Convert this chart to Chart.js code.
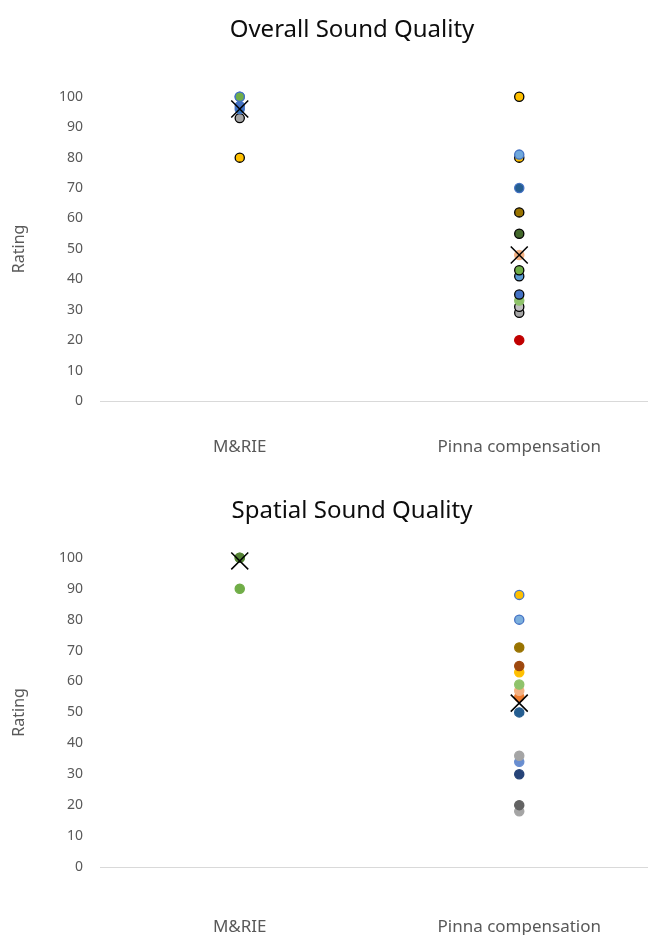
<!DOCTYPE html>
<html lang="en">
<head>
    <meta charset="UTF-8">
    <title>Overall and Spatial Sound Quality</title>
    <script src="https://cdn.jsdelivr.net/npm/chart.js"></script>
    <style>
        body { margin: 0; background: #fff; overflow: hidden; width: 648px; height: 935px; }
        .box { position: absolute; left: 0; width: 704px; }
    </style>
</head>
<body>
    <div class="box" style="top:0;height:468px"><canvas id="overallChart"></canvas></div>
    <div class="box" style="top:468px;height:467px"><canvas id="spatialChart"></canvas></div>
    <script>
        // Categories and ratings
        const categories = ['M&RIE', 'Pinna compensation'];
        const yTicks = [0, 10, 20, 30, 40, 50, 60, 70, 80, 90, 100];

        const overallMrie = [80, 93, 96, 97, 100, 100];
        const overallPinna = [20, 29, 31, 33, 35, 41, 43, 48, 55, 62, 70, 80, 81, 100];
        const overallMean = [96, 48];

        const spatialMrie = [90, 100, 100];
        const spatialPinna = [18, 20, 30, 34, 36, 50, 55, 57, 59, 63, 65, 71, 80, 88];
        const spatialMean = [99, 53];

        // point colours (same order as the values)
        const overallMrieFill = ['#FFC000', '#A5A5A5', '#2E75B6', '#4472C4', '#6FA8DC', '#70AD47'];
        const overallMrieLine = ['#000000', '#000000', '#4472C4', '#4472C4', '#4472C4', '#4472C4'];
        const overallPinnaFill = ['#C00000', '#A5A5A5', '#BFBFBF', '#8FC36B', '#4472C4', '#5B9BD5', '#70AD47', '#F4B183',
            '#43682B', '#997300', '#255E91', '#FFC000', '#6FA8DC', '#FFC000'];
        const overallPinnaLine = ['#C00000', '#000000', '#000000', '#8FC36B', '#000000', '#000000', '#000000', '#F4B183',
            '#000000', '#000000', '#4472C4', '#000000', '#4472C4', '#000000'];

        const spatialMrieFill = ['#70AD47', '#70AD47', '#548235'];
        const spatialPinnaFill = ['#A5A5A5', '#636363', '#264478', '#698ED0', '#A5A5A5', '#255E91', '#ED7D31', '#F4B183',
            '#8FC36B', '#FFC000', '#9E480E', '#997300', '#7CAFDD', '#FFC000'];
        const spatialPinnaLine = ['#A5A5A5', '#636363', '#264478', '#698ED0', '#A5A5A5', '#255E91', '#ED7D31', '#F4B183',
            '#8FC36B', '#FFC000', '#9E480E', '#997300', '#4472C4', '#4472C4'];

        const font = '"Noto Sans", sans-serif';

        function pts(values, cat) {
            return values.map(v => ({ x: cat, y: v }));
        }

        // centre the title on the whole (704px) chart like the original, not on the padded area
        const wideTitle = {
            id: 'wideTitle',
            afterLayout(chart) {
                const t = chart.titleBlock;
                if (t) { t.left = 0; t.right = chart.width; t.width = chart.width; }
            }
        };

        function makeChart(id, title, mrie, pinna, mean, mrieFill, mrieLine, pinnaFill, pinnaLine, lay) {
            return new Chart(document.getElementById(id), {
                type: 'scatter',
                plugins: [wideTitle],
                data: {
                    datasets: [
                        {
                            label: 'Mean',
                            data: mean.map((v, i) => ({ x: i + 1, y: v })),
                            pointStyle: 'crossRot',
                            pointRadius: 12,
                            borderColor: '#000000',
                            borderWidth: 1.5
                        },
                        {
                            label: categories[1],
                            data: pts(pinna, 2),
                            backgroundColor: pinnaFill,
                            borderColor: pinnaLine,
                            borderWidth: 1.3,
                            pointRadius: 4.6
                        },
                        {
                            label: categories[0],
                            data: pts(mrie, 1),
                            backgroundColor: mrieFill,
                            borderColor: mrieLine,
                            borderWidth: 1.3,
                            pointRadius: 4.6
                        }
                    ]
                },
                options: {
                    responsive: true,
                    maintainAspectRatio: false,
                    animation: false,
                    clip: false,
                    layout: { padding: { left: 0, right: 45, top: 0, bottom: 0 } },
                    plugins: {
                        legend: { display: false },
                        tooltip: { enabled: false },
                        title: {
                            display: true,
                            text: title,
                            color: '#0D0D0D',
                            font: { family: font, size: 24, weight: 'normal' },
                            padding: { top: lay.titleTop, bottom: lay.titleBottom }
                        }
                    },
                    scales: {
                        x: {
                            type: 'linear',
                            min: 0.5,
                            max: 2.5,
                            grid: { display: false, drawTicks: false },
                            border: { display: true, color: '#D9D9D9', width: 1 },
                            afterBuildTicks: s => { s.ticks = [{ value: 1 }, { value: 2 }]; },
                            afterFit: s => { s.height = lay.xHeight; },
                            ticks: {
                                padding: lay.xPad,
                                maxRotation: 0,
                                color: '#595959',
                                font: { family: font, size: 17 },
                                callback: v => categories[v - 1]
                            }
                        },
                        y: {
                            min: 0,
                            max: 100,
                            afterBuildTicks: s => { s.ticks = yTicks.map(v => ({ value: v })); },
                            afterFit: s => { s.width = 100; },
                            grid: { display: false, drawTicks: false },
                            border: { display: false },
                            ticks: {
                                padding: 17,
                                color: '#595959',
                                font: { family: font, size: 14 }
                            },
                            title: {
                                display: true,
                                text: 'Rating',
                                color: '#595959',
                                font: { family: font, size: 16 },
                                padding: { top: 10, bottom: 0 }
                            }
                        }
                    }
                }
            });
        }

        makeChart('overallChart', 'Overall Sound Quality', overallMrie, overallPinna, overallMean,
            overallMrieFill, overallMrieLine, overallPinnaFill, overallPinnaLine,
            { titleTop: 16, titleBottom: 52, xPad: 36, xHeight: 67 });

        makeChart('spatialChart', 'Spatial Sound Quality', spatialMrie, spatialPinna, spatialMean,
            spatialMrieFill, spatialMrieFill, spatialPinnaFill, spatialPinnaLine,
            { titleTop: 29, titleBottom: 32, xPad: 50, xHeight: 68 });
    </script>
</body>
</html>
